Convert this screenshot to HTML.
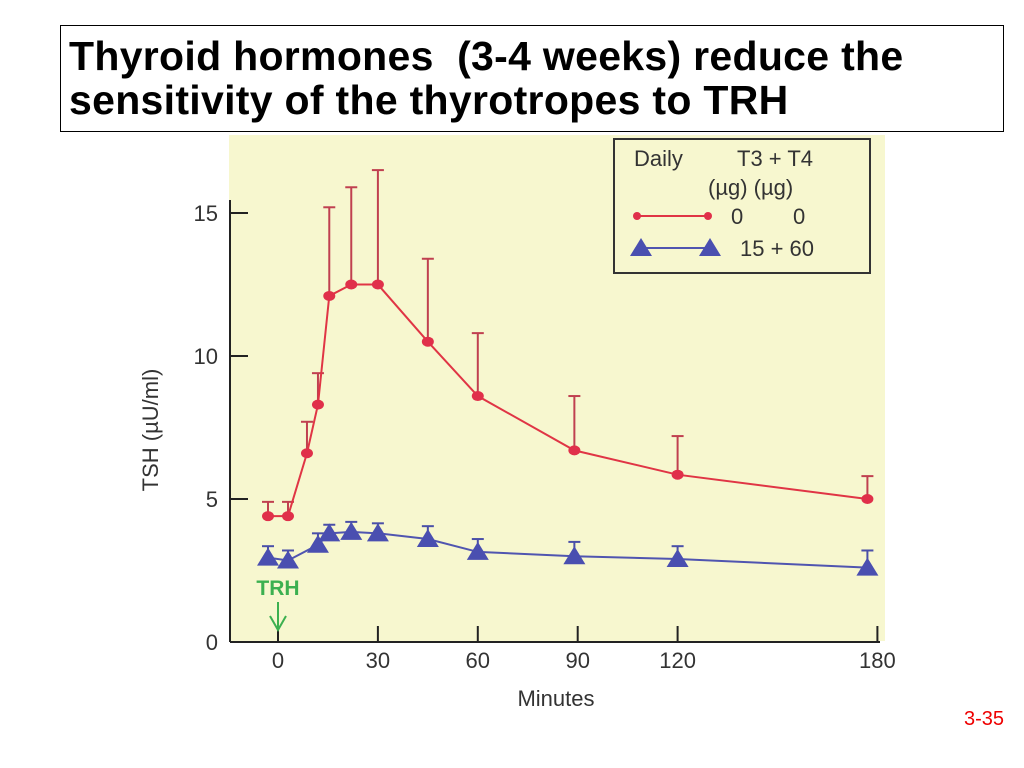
<!DOCTYPE html>
<html><head><meta charset="utf-8"><style>
body{margin:0;background:#fff;width:1024px;height:768px;overflow:hidden;font-family:"Liberation Sans",sans-serif}
#title{position:absolute;left:60px;top:25px;width:944px;height:107px;border:1px solid #000;box-sizing:border-box;font-weight:bold;font-size:41px;line-height:44px;padding:8px 0 0 8px;color:#000;white-space:nowrap;letter-spacing:0.3px}
#pg{position:absolute;right:20px;top:708px;color:#e00;font-size:20px}
</style></head><body>
<div id="title">Thyroid hormones&nbsp; (3-4 weeks) reduce the<br>sensitivity of the thyrotropes to TRH</div>
<svg id="chart" width="1024" height="768" style="position:absolute;left:0;top:0">
<rect x="229" y="135" width="656" height="506" fill="#f7f7cf"/>
<g id="g"></g>
</svg>
<div id="pg">3-35</div>
<script>
const times=[-3,3,8.7,12,15.4,22,30,45,60,89,120,177];
const redVals=[4.4,4.4,6.6,8.3,12.1,12.5,12.5,10.5,8.6,6.7,5.85,5.0];
const redErr=[4.9,4.9,7.7,9.4,15.2,15.9,16.5,13.4,10.8,8.6,7.2,5.8];
const blueTimes=[-3,3,12,15.4,22,30,45,60,89,120,177];
const blueVals=[2.95,2.85,3.4,3.8,3.85,3.8,3.6,3.15,3.0,2.9,2.6];
const blueErr=[3.35,3.2,3.8,4.1,4.2,4.15,4.05,3.6,3.5,3.35,3.2];
const xTicks=[0,30,60,90,120,180];
const yTicks=[0,5,10,15];
const X=t=>278+t*3.33, Y=v=>642-v*28.6;
const g=document.getElementById('g'),NS='http://www.w3.org/2000/svg';
function mk(tag,at,name,txt){const e=document.createElementNS(NS,tag);for(const k in at)e.setAttribute(k,at[k]);


if(txt!==undefined)e.textContent=txt;g.appendChild(e);return e;}
mk('line',{x1:230,y1:200,x2:230,y2:642,stroke:'#222','stroke-width':2},'y-axis');
mk('line',{x1:230,y1:642,x2:880,y2:642,stroke:'#222','stroke-width':2},'x-axis');
yTicks.forEach(v=>{mk('line',{x1:230,y1:Y(v),x2:248,y2:Y(v),stroke:'#222','stroke-width':2},'y-tick');
mk('text',{x:218,y:Y(v)+8,'text-anchor':'end','font-size':22,fill:'#333'},'y-tick-label',v);});
xTicks.forEach(t=>{mk('line',{x1:X(t),y1:626,x2:X(t),y2:642,stroke:'#222','stroke-width':2},'x-tick');
mk('text',{x:X(t),y:668,'text-anchor':'middle','font-size':22,fill:'#333'},'x-tick-label',t);});
mk('text',{x:556,y:706,'text-anchor':'middle','font-size':22,fill:'#333'},'x-axis-title','Minutes');
mk('text',{x:158,y:430,'text-anchor':'middle','font-size':22,fill:'#333',transform:'rotate(-90 158 430)'},'y-axis-title','TSH (µU/ml)');
mk('text',{x:278,y:595,'text-anchor':'middle','font-size':21,'font-weight':'bold',fill:'#3cb050'},'trh-label','TRH');
mk('line',{x1:278,y1:602,x2:278,y2:628,stroke:'#3cb050','stroke-width':2},'trh-arrow');
mk('path',{d:'M270 616 L278 630 L286 616',fill:'none',stroke:'#3cb050','stroke-width':2},'trh-arrowhead');
times.forEach((t,i)=>{mk('line',{x1:X(t),y1:Y(redVals[i]),x2:X(t),y2:Y(redErr[i]),stroke:'#c04050','stroke-width':2},'red-error-bar');
mk('line',{x1:X(t)-6,y1:Y(redErr[i]),x2:X(t)+6,y2:Y(redErr[i]),stroke:'#c04050','stroke-width':2},'red-error-cap');});
blueTimes.forEach((t,i)=>{mk('line',{x1:X(t),y1:Y(blueVals[i]),x2:X(t),y2:Y(blueErr[i]),stroke:'#4a4fa8','stroke-width':2},'blue-error-bar');
mk('line',{x1:X(t)-6,y1:Y(blueErr[i]),x2:X(t)+6,y2:Y(blueErr[i]),stroke:'#4a4fa8','stroke-width':2},'blue-error-cap');});
mk('polyline',{points:times.map((t,i)=>X(t)+','+Y(redVals[i])).join(' '),fill:'none',stroke:'#e03545','stroke-width':2},'red-series-line');
mk('polyline',{points:blueTimes.map((t,i)=>X(t)+','+Y(blueVals[i])).join(' '),fill:'none',stroke:'#5055b0','stroke-width':2},'blue-series-line');
times.forEach((t,i)=>mk('ellipse',{cx:X(t),cy:Y(redVals[i]),rx:6,ry:5,fill:'#e0304a'},'red-point'));
blueTimes.forEach((t,i)=>{const x=X(t),y=Y(blueVals[i]);mk('polygon',{points:`${x-11},${y+8} ${x+11},${y+8} ${x},${y-10}`,fill:'#4a4fb0'},'blue-point');});
mk('rect',{x:614,y:139,width:256,height:134,fill:'#f7f7cf',stroke:'#333','stroke-width':2},'legend-box');
mk('text',{x:634,y:166,'font-size':22,fill:'#333'},'legend-header','Daily');
mk('text',{x:737,y:166,'font-size':22,fill:'#333'},'legend-header','T3 + T4');
mk('text',{x:708,y:195,'font-size':22,fill:'#333'},'legend-units','(µg) (µg)');
mk('line',{x1:637,y1:216,x2:708,y2:216,stroke:'#e03545','stroke-width':2},'legend-red-line');
mk('circle',{cx:637,cy:216,r:4,fill:'#e0304a'},'legend-red-marker');
mk('circle',{cx:708,cy:216,r:4,fill:'#e0304a'},'legend-red-marker');
mk('text',{x:731,y:224,'font-size':22,fill:'#333'},'legend-red-label','0');
mk('text',{x:793,y:224,'font-size':22,fill:'#333'},'legend-red-label','0');
mk('line',{x1:640,y1:248,x2:710,y2:248,stroke:'#5055b0','stroke-width':2},'legend-blue-line');
mk('polygon',{points:'630,256 652,256 641,238',fill:'#4a4fb0'},'legend-blue-marker');
mk('polygon',{points:'699,256 721,256 710,238',fill:'#4a4fb0'},'legend-blue-marker');
mk('text',{x:740,y:256,'font-size':22,fill:'#333'},'legend-blue-label','15 + 60');
</script>
</body></html>
